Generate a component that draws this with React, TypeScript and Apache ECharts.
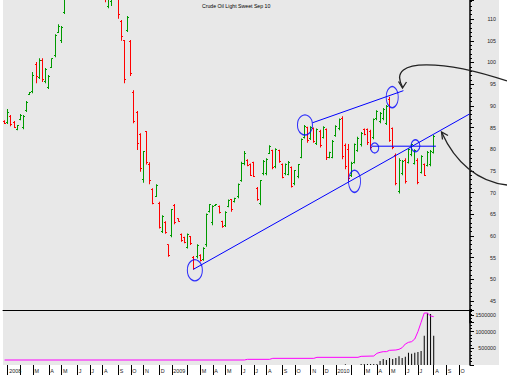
import React, { useEffect, useRef } from "react";
import * as echarts from "echarts";

const TITLE = "Crude Oil Light Sweet Sep 10";
const FIRST_SUNDAY_UTC = Date.UTC(2007, 11, 23);
const WEEK_COUNT = 148;
// Jan 2008 .. Oct 2010 (Feb labels hidden under the year label)
const MONTH_LABELS = [
  "2008", "", "M", "A", "M", "J", "J", "A", "S", "O", "N", "D",
  "2009", "", "M", "A", "M", "J", "J", "A", "S", "O", "N", "D",
  "2010", "", "M", "A", "M", "J", "J", "A", "S", "O",
];

const OPEN = [
  86.5, 86.2, 87.5, 86.2, 84.6, 86.9, 85.0, 89.0, 92.6, 93.3,
  99.5, 96.5, 100.5, 95.5, 94.2, 98.9, 101.5, 107.0, 105.0, 111.5,
  117.5, 124.0, 122.0, 127.0, 131.0, 128.0, 133.0, 137.0, 141.0, 145.0,
  131.0, 126.0, 121.0, 113.0, 114.0, 120.0, 117.0, 109.5, 105.0, 107.3,
  104.8, 93.0, 88.5, 83.3, 73.0, 84.0, 76.5, 70.8, 69.2, 67.5,
  61.0, 63.2, 58.0, 60.0, 67.0, 64.0, 60.4, 59.6, 57.4, 59.8,
  55.0, 55.2, 55.6, 54.6, 58.0, 65.6, 63.0, 67.0, 66.8, 63.3,
  62.4, 66.8, 68.3, 67.9, 69.0, 72.8, 76.6, 77.5, 76.5, 77.0,
  71.0, 67.5, 74.3, 74.5, 79.1, 79.7, 76.0, 79.7, 76.5, 74.3,
  74.2, 75.8, 72.0, 73.6, 78.2, 82.8, 85.0, 82.4, 84.7, 81.3,
  84.2, 82.8, 84.5, 78.1, 78.2, 83.2, 84.8, 87.0, 80.8, 80.0,
  74.0, 77.0, 79.8, 81.0, 84.6, 84.5, 84.0, 82.6, 87.0, 86.3,
  87.0, 86.0, 91.5, 84.7, 78.6, 70.3, 74.3, 77.5, 77.0, 78.7,
  76.8, 77.5, 74.7, 76.4, 76.3, 76.4, 79.3,
];
const HIGH = [
  86.7, 89.3, 87.9, 86.5, 85.6, 88.1, 87.9, 91.1, 93.2, 97.8,
  100.1, 101.0, 101.0, 98.7, 97.1, 101.0, 106.5, 108.8, 108.4, 118.0,
  126.0, 127.0, 128.0, 132.0, 133.0, 135.0, 139.0, 143.0, 147.0, 146.0,
  132.0, 127.0, 122.0, 119.0, 121.0, 122.0, 118.0, 109.8, 105.2, 110.7,
  105.2, 93.6, 88.8, 83.7, 79.6, 84.2, 77.0, 71.0, 71.9, 67.9,
  64.8, 63.4, 58.1, 66.2, 67.4, 64.1, 60.6, 59.8, 60.6, 60.0,
  55.4, 58.1, 55.8, 57.4, 65.2, 67.4, 67.1, 67.4, 67.0, 63.5,
  65.7, 68.4, 68.5, 68.8, 72.1, 77.1, 79.6, 77.7, 76.7, 77.1,
  71.3, 72.9, 77.5, 77.9, 80.9, 79.9, 80.2, 79.9, 76.7, 76.7,
  77.3, 76.0, 75.2, 76.6, 82.5, 85.6, 85.2, 85.3, 85.0, 84.8,
  84.5, 85.3, 84.8, 79.4, 82.1, 85.5, 87.1, 87.6, 81.3, 81.2,
  77.1, 81.3, 82.9, 84.0, 84.8, 84.8, 84.5, 87.1, 89.0, 88.6,
  89.5, 90.2, 92.1, 85.0, 79.0, 77.9, 77.5, 77.9, 80.2, 81.3,
  80.0, 77.9, 78.6, 76.7, 79.6, 79.8, 83.3,
];
const LOW = [
  85.8, 85.8, 85.3, 84.9, 84.4, 86.7, 84.6, 88.6, 92.5, 92.9,
  95.2, 96.2, 95.5, 95.2, 93.9, 98.7, 101.2, 106.8, 104.5, 111.2,
  116.0, 120.0, 121.0, 125.0, 126.0, 127.0, 131.0, 135.0, 139.0, 129.0,
  122.0, 118.0, 113.9, 112.5, 113.0, 115.0, 110.1, 105.0, 95.2, 107.0,
  96.9, 86.0, 79.8, 74.8, 72.3, 76.5, 71.9, 67.3, 69.0, 61.7,
  60.7, 60.5, 55.2, 59.7, 62.7, 63.3, 58.7, 58.3, 57.1, 57.9,
  52.3, 54.8, 54.1, 54.3, 57.5, 65.4, 62.5, 66.9, 65.2, 61.9,
  62.1, 66.6, 65.6, 67.7, 68.7, 72.5, 76.3, 76.1, 73.8, 73.6,
  68.1, 67.1, 74.0, 74.0, 78.9, 75.4, 75.6, 76.9, 73.3, 74.0,
  74.0, 71.2, 71.7, 73.3, 77.9, 82.5, 81.5, 82.1, 81.5, 81.0,
  80.4, 82.5, 77.5, 77.9, 77.9, 82.9, 84.4, 77.7, 75.4, 72.7,
  73.6, 76.7, 79.4, 80.6, 83.2, 81.0, 79.9, 82.3, 86.7, 86.0,
  86.7, 85.6, 81.7, 80.0, 71.7, 69.8, 74.0, 72.1, 76.7, 78.4,
  76.5, 71.9, 74.4, 73.8, 76.0, 76.1, 79.0,
];
const CLOSE = [
  86.0, 88.5, 85.8, 85.0, 85.4, 87.8, 87.5, 90.8, 93.0, 97.0,
  96.8, 100.5, 96.0, 98.3, 96.8, 100.8, 106.2, 108.2, 108.0, 117.0,
  124.0, 122.0, 127.0, 131.0, 128.0, 133.0, 137.0, 141.0, 145.0, 131.0,
  126.0, 121.0, 115.0, 118.0, 120.0, 117.0, 111.0, 106.0, 96.0, 110.3,
  97.5, 86.5, 81.3, 75.5, 79.4, 77.0, 72.8, 67.6, 71.7, 61.9,
  64.5, 60.7, 55.5, 66.0, 63.0, 63.4, 59.0, 58.5, 60.3, 58.2,
  52.6, 57.8, 54.4, 57.1, 65.0, 67.2, 66.8, 67.3, 65.5, 62.1,
  65.5, 68.1, 66.0, 68.6, 71.9, 76.8, 79.0, 76.3, 74.0, 73.8,
  68.4, 72.7, 77.2, 77.6, 80.6, 75.7, 80.0, 77.2, 73.5, 76.5,
  77.0, 71.5, 75.0, 76.4, 82.2, 85.3, 82.0, 85.0, 81.8, 84.5,
  80.8, 85.0, 78.0, 79.2, 81.8, 85.2, 86.8, 78.3, 76.0, 73.3,
  76.8, 81.0, 82.5, 83.6, 83.4, 81.5, 80.3, 86.8, 88.8, 88.3,
  89.2, 89.9, 82.0, 80.5, 72.2, 77.5, 77.2, 72.5, 80.0, 81.0,
  79.7, 72.3, 78.3, 74.0, 79.3, 79.5, 83.0,
];

// [week index, contracts]
const VOLUME = [
  [108, 20000], [113, 30000], [114, 30000], [115, 30000], [116, 30000],
  [117, 30000], [118, 30000], [119, 120000], [120, 180000], [121, 150000],
  [122, 210000], [123, 180000], [124, 210000], [125, 260000], [126, 210000],
  [127, 250000], [128, 370000], [129, 340000], [130, 370000], [131, 390000],
  [132, 420000], [133, 880000], [134, 1550000], [135, 1530000], [136, 880000],
];
// [week index, open interest] read at the line's break points
const OPEN_INTEREST = [
  [0, 150000], [76, 150000], [77, 170000], [84, 170000], [85, 200000],
  [98, 200000], [99, 230000], [112, 230000], [113, 260000], [117, 270000],
  [118, 350000], [119, 380000], [120, 400000], [121, 400000], [122, 440000],
  [124, 450000], [125, 470000], [126, 520000], [127, 630000], [128, 680000],
  [129, 700000], [130, 780000], [131, 1000000], [132, 1280000], [133, 1560000],
  [134, 1560000], [135, 1470000], [136, 1450000],
];

// hand-drawn annotations, in (week index, price)
const TREND_LOWER = [[59.8, 52.3], [147.3, 88.1]];
const TREND_UPPER = [[97.6, 86.1], [126.4, 93.5]];
const NECKLINE = [[116.4, 80.7], [136.7, 80.7]];
const ELLIPSES = [
  [60.3, 52.1, 15, 21],
  [95.2, 85.6, 15, 20],
  [122.85, 92.0, 12, 21],
  [110.9, 72.6, 12, 22],
  [117.3, 80.3, 8, 10],
  [130.2, 80.8, 9, 12],
];

const UP = "#009a00";
const DOWN = "#ff0000";
const BLUE = "#0000ff";
const MAGENTA = "#ff00ff";
const FONT = "Liberation Sans";

function buildWeeks() {
  const weeks: string[] = [];
  const monthAt = new Map<number, string>();
  for (let i = 0; i < WEEK_COUNT; i++) {
    const t = FIRST_SUNDAY_UTC + i * 7 * 86400000;
    const d = new Date(t);
    const e = new Date(t + 6 * 86400000);
    weeks.push(d.toISOString().slice(0, 10));
    let first: Date | null = null;
    if (d.getUTCDate() === 1) first = d;
    else if (e.getUTCMonth() !== d.getUTCMonth()) first = e;
    if (first) {
      const m = (first.getUTCFullYear() - 2008) * 12 + first.getUTCMonth();
      if (m >= 0 && m < MONTH_LABELS.length) monthAt.set(i, MONTH_LABELS[m]);
    }
  }
  return { weeks, monthAt };
}

export default function App() {
  const ref = useRef<HTMLDivElement>(null);
  useEffect(() => {
    if (!ref.current) return;
    const chart = echarts.init(ref.current, undefined, { renderer: "svg" });
    const { weeks, monthAt } = buildWeeks();
    const ohlc = OPEN.map((o, i) => [i, o, HIGH[i], LOW[i], CLOSE[i]]);
    const vol: (number | null)[] = new Array(WEEK_COUNT).fill(null);
    VOLUME.forEach(([i, v]) => (vol[i] = v));
    const oi: (number | null)[] = new Array(WEEK_COUNT).fill(null);
    OPEN_INTEREST.forEach(([i, v]) => (oi[i] = v));

    const renderOHLC = (params: any, api: any) => {
      const i = api.value(0);
      const o = api.value(1);
      const h = api.value(2);
      const l = api.value(3);
      const c = api.value(4);
      const pt = api.coord([i, h]);
      const pb = api.coord([i, l]);
      const po = api.coord([i, o]);
      const pc = api.coord([i, c]);
      const x = Math.round(pt[0] - 0.5);
      const color = c >= o ? UP : DOWN;
      const y1 = pt[1];
      const y2 = Math.max(pb[1], y1 + 1);
      return {
        type: "group",
        children: [
          { type: "rect", shape: { x, y: y1, width: 1, height: y2 - y1 }, style: { fill: color } },
          { type: "rect", shape: { x: x - 1, y: Math.floor(po[1]), width: 1, height: 1 }, style: { fill: color } },
          { type: "rect", shape: { x: x + 1, y: Math.floor(pc[1]), width: 1, height: 1 }, style: { fill: color } },
        ],
      };
    };

    const tickLabel = { fontSize: 5.3, color: "#222", fontFamily: FONT };
    const lineSeries = (data: number[][]) => ({
      type: "line",
      xAxisIndex: 0,
      yAxisIndex: 0,
      data,
      symbol: "none",
      silent: true,
      lineStyle: { color: BLUE, width: 1 },
      z: 5,
    });

    chart.setOption({
      animation: false,
      backgroundColor: "#ffffff",
      title: {
        text: TITLE,
        left: 202,
        top: 3,
        padding: 0,
        textStyle: { fontSize: 5.2, fontWeight: "normal", color: "#000", fontFamily: FONT },
      },
      graphic: [
        { type: "rect", z: -10, silent: true, shape: { x: 3, y: 0, width: 496, height: 365 }, style: { fill: "#e8e8e8" } },
        {
          type: "bezierCurve", z: 100, silent: true,
          shape: { x1: 507, y1: 81, cpx1: 450, cpy1: 62, cpx2: 385, cpy2: 55, x2: 402.5, y2: 87 },
          style: { stroke: "#222", lineWidth: 1.3, fill: "none" },
        },
        {
          type: "polyline", z: 100, silent: true,
          shape: { points: [[398.5, 81.5], [402.5, 88], [406.5, 82]] },
          style: { stroke: "#222", lineWidth: 1.3, fill: "none" },
        },
        {
          type: "bezierCurve", z: 100, silent: true,
          shape: { x1: 507, y1: 185, cpx1: 478, cpy1: 182, cpx2: 455, cpy2: 162, x2: 442, y2: 133 },
          style: { stroke: "#222", lineWidth: 1.3, fill: "none" },
        },
        {
          type: "polyline", z: 100, silent: true,
          shape: { points: [[442.5, 139.5], [441.5, 132], [448, 135.5]] },
          style: { stroke: "#222", lineWidth: 1.3, fill: "none" },
        },
      ],
      grid: [
        { left: 3, top: 0, width: 467, height: (114.4 - 40) * 4.338 },
        { left: 3, top: 310, width: 467, height: 55 },
      ],
      xAxis: [
        {
          type: "value", gridIndex: 0, min: -0.5, max: WEEK_COUNT - 0.5, show: false,
          axisLine: { show: false, onZero: false }, axisTick: { show: false },
          axisLabel: { show: false }, splitLine: { show: false },
        },
        {
          type: "category", gridIndex: 1, data: weeks, position: "bottom", boundaryGap: true,
          axisLine: { show: false, onZero: false },
          axisTick: {
            show: true, alignWithLabel: true, length: 10,
            interval: (i: number) => monthAt.has(i),
            lineStyle: { color: "#000", width: 1 },
          },
          axisLabel: {
            show: true, align: "left", margin: 3, padding: [0, 0, 0, 1.5],
            fontSize: 5.4, color: "#222", fontFamily: FONT,
            interval: (i: number) => !!monthAt.get(i),
            formatter: (_v: string, i: number) => monthAt.get(i) || "",
          },
          splitLine: { show: false },
        },
        {
          type: "category", gridIndex: 1, data: weeks, position: "top",
          axisLine: { show: true, onZero: false, lineStyle: { color: "#000", width: 1 } },
          axisTick: { show: false }, axisLabel: { show: false }, splitLine: { show: false },
        },
      ],
      yAxis: [
        {
          type: "value", gridIndex: 0, position: "right", min: 40, max: 114.4, interval: 5,
          axisLine: { show: true, onZero: false, lineStyle: { color: "#000", width: 1.5 } },
          axisTick: { show: true, length: 4, lineStyle: { color: "#000" } },
          minorTick: { show: true, splitNumber: 5, length: 2, lineStyle: { color: "#000" } },
          axisLabel: {
            ...tickLabel, align: "right", margin: 26, showMaxLabel: false,
            formatter: (v: number) => (v < 45 || v > 110 ? "" : String(v)),
          },
          splitLine: { show: false },
        },
        {
          type: "value", gridIndex: 1, position: "right", min: 0, max: 1650000, interval: 500000,
          axisLine: { show: true, onZero: false, lineStyle: { color: "#000", width: 1.5 } },
          axisTick: { show: true, length: 4, lineStyle: { color: "#000" } },
          minorTick: { show: true, splitNumber: 5, length: 2, lineStyle: { color: "#000" } },
          axisLabel: {
            ...tickLabel, align: "right", margin: 26, showMaxLabel: false, showMinLabel: false,
            formatter: (v: number) => (v === 0 || v > 1500000 ? "" : String(v)),
          },
          splitLine: { show: false },
        },
      ],
      series: [
        {
          type: "custom", xAxisIndex: 0, yAxisIndex: 0, data: ohlc, clip: true,
          encode: { x: 0, y: [1, 2, 3, 4] }, renderItem: renderOHLC, silent: true, z: 3,
        },
        lineSeries(TREND_LOWER),
        lineSeries(TREND_UPPER),
        lineSeries(NECKLINE),
        {
          type: "scatter", xAxisIndex: 0, yAxisIndex: 0, silent: true, z: 6,
          symbol: "circle",
          data: ELLIPSES.map((e) => ({ value: [e[0], e[1]], symbolSize: [e[2], e[3]] })),
          itemStyle: { color: "transparent", borderColor: BLUE, borderWidth: 1.2 },
        },
        {
          type: "bar", xAxisIndex: 1, yAxisIndex: 1, data: vol, barWidth: 1, silent: true,
          itemStyle: { color: "#000" },
        },
        {
          type: "line", xAxisIndex: 1, yAxisIndex: 1, data: oi, connectNulls: true,
          symbol: "none", silent: true, lineStyle: { color: MAGENTA, width: 1 }, z: 4,
        },
      ],
    });
    return () => chart.dispose();
  }, []);
  return (
    <div
      ref={ref}
      style={{ position: "absolute", left: 0, top: 0, width: 507, height: 381, background: "#fff" }}
    />
  );
}
